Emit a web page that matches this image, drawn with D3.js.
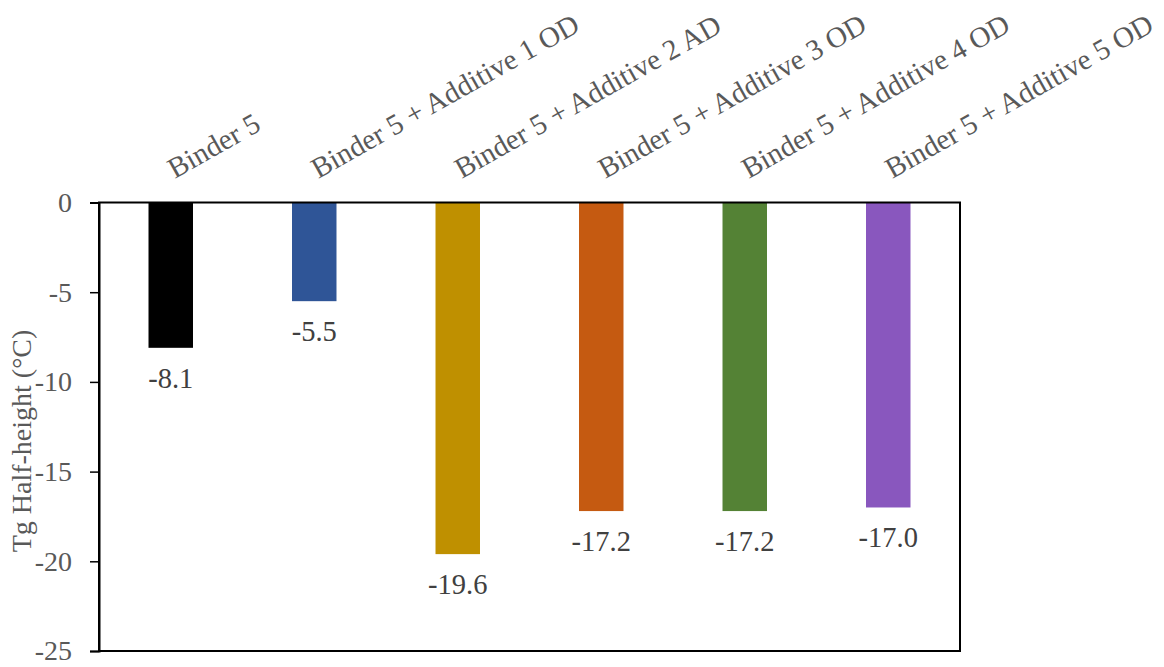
<!DOCTYPE html>
<html>
<head>
<meta charset="utf-8">
<script src="https://cdn.jsdelivr.net/npm/d3@7"></script>
<style>
  html, body { margin: 0; padding: 0; background: #fff; }
  svg { display: block; }
  text { font-family: "Liberation Serif", "Times New Roman", serif; }
</style>
</head>
<body>
<svg id="chart" width="1164" height="667"></svg>
<script>
const categories = [
  "Binder 5",
  "Binder 5 + Additive 1 OD",
  "Binder 5 + Additive 2 AD",
  "Binder 5 + Additive 3 OD",
  "Binder 5 + Additive 4 OD",
  "Binder 5 + Additive 5 OD"
];
const values = [-8.1, -5.5, -19.6, -17.2, -17.2, -17.0];
const colors = ["#000000", "#2F5597", "#BF9000", "#C55A11", "#548235", "#8957BE"];
const yTicks = [0, -5, -10, -15, -20, -25];
const yTitle = "Tg Half-height (°C)";

const svg = d3.select("#chart");
const plot = { left: 99, right: 960, top: 202.5, bottom: 651 };

const x = d3.scaleBand()
  .domain(categories)
  .range([plot.left, plot.right])
  .paddingInner(0.69)
  .paddingOuter(0.345);

const y = d3.scaleLinear()
  .domain([0, -25])
  .range([plot.top, plot.bottom]);

// bars
svg.append("g").selectAll("rect")
  .data(values)
  .join("rect")
  .attr("x", (d, i) => x(categories[i]))
  .attr("y", y(0))
  .attr("width", x.bandwidth())
  .attr("height", d => y(d) - y(0))
  .attr("fill", (d, i) => colors[i]);

// plot frame
svg.append("rect")
  .attr("x", plot.left)
  .attr("y", plot.top)
  .attr("width", plot.right - plot.left)
  .attr("height", plot.bottom - plot.top)
  .attr("fill", "none")
  .attr("stroke", "#000")
  .attr("stroke-width", 2);

// y axis
const yAxis = d3.axisLeft(y).tickValues(yTicks).tickSize(9).tickPadding(18)
  .tickFormat(d3.format("d"));
const gy = svg.append("g")
  .attr("transform", `translate(${plot.left},0)`)
  .call(yAxis);
gy.select(".domain").attr("stroke", "#000").attr("stroke-width", 2);
gy.selectAll(".tick line").attr("stroke", "#000").attr("stroke-width", 1.5);
gy.selectAll(".tick text")
  .attr("fill", "#595959")
  .style("font-size", "28px")
  .style("font-family", "'Liberation Serif', serif")
  .text(d => d === 0 ? "0" : "-" + Math.abs(d));

// category labels (top, rotated)
svg.append("g").selectAll("text")
  .data(categories)
  .join("text")
  .attr("transform", d => `translate(${x(d) + x.bandwidth() / 2 + 4},179) rotate(-29.5)`)
  .attr("text-anchor", "start")
  .attr("fill", "#595959")
  .style("font-size", "29px")
  .text(d => d);

// data labels
svg.append("g").selectAll("text")
  .data(values)
  .join("text")
  .attr("x", (d, i) => x(categories[i]) + x.bandwidth() / 2)
  .attr("y", d => y(d) + 40)
  .attr("text-anchor", "middle")
  .attr("fill", "#404040")
  .style("font-size", "28.5px")
  .text(d => d3.format(".1f")(d).replace("−", "-"));

// y title
svg.append("text")
  .attr("transform", "translate(31,441) rotate(-90)")
  .attr("text-anchor", "middle")
  .attr("fill", "#595959")
  .style("font-size", "28px")
  .text(yTitle);
</script>
</body>
</html>
